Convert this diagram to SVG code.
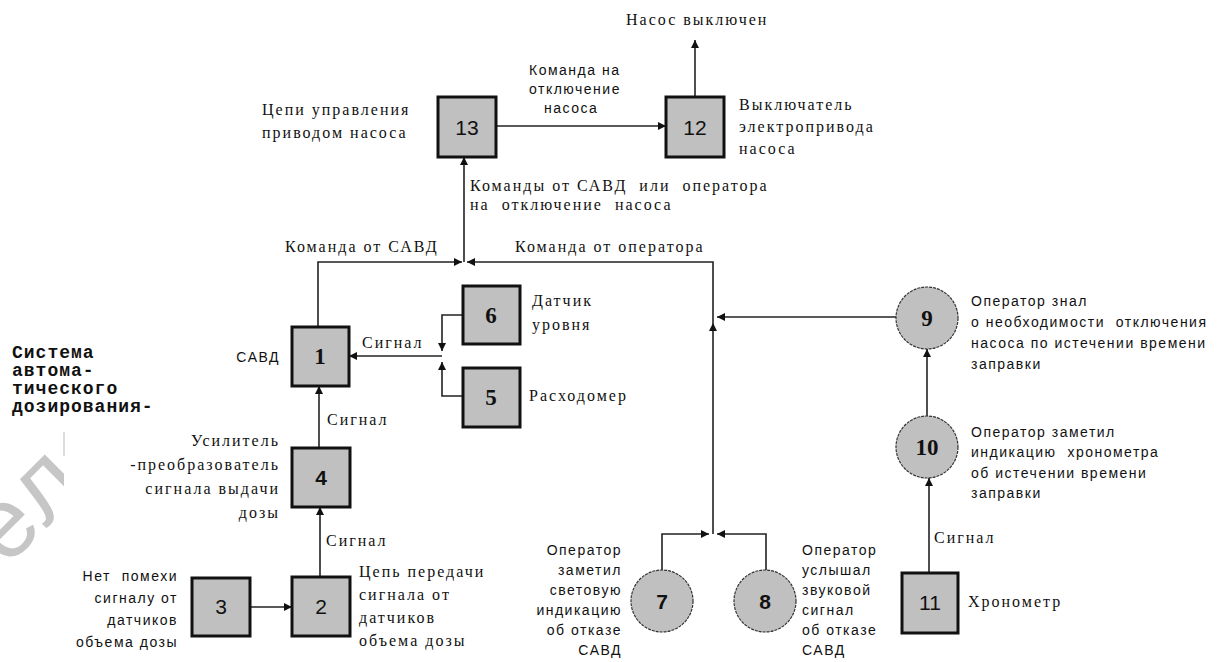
<svg xmlns="http://www.w3.org/2000/svg" width="1222" height="662" viewBox="0 0 1222 662">
<style>
.s{font-family:"Liberation Serif","Times New Roman",serif;font-size:16px;letter-spacing:2px;fill:#111;white-space:pre}
.a{font-family:"Liberation Sans",Arial,sans-serif;font-size:14px;letter-spacing:1.5px;fill:#111;white-space:pre}
.e{text-anchor:end}
.m{font-family:"Liberation Mono","Courier New",monospace;font-size:18px;font-weight:bold;letter-spacing:1px;fill:#111}
.box{fill:#c0c0c0;stroke:#111;stroke-width:3}
.cir{fill:#c0c0c0;stroke:#333;stroke-width:1.2;stroke-dasharray:3 1}
.ns{font-family:"Liberation Sans",Arial,sans-serif;font-size:21px;text-anchor:middle;fill:#111}
.nf{font-family:"Liberation Serif","Times New Roman",serif;font-size:23px;font-weight:bold;text-anchor:middle;fill:#111}
.c{fill:none;stroke:#222;stroke-width:1.6}
</style>
<defs>
<marker id="ar" viewBox="0 0 8 8" refX="8" refY="4" markerWidth="8" markerHeight="8" markerUnits="userSpaceOnUse" orient="auto">
<path d="M0,0 L8,4 L0,8 z" fill="#111"/>
</marker>
<clipPath id="wm"><rect x="0" y="400" width="64" height="262"/></clipPath>
</defs>
<rect width="1222" height="662" fill="#fff"/>
<g id="watermark">
<g clip-path="url(#wm)">
<text x="6" y="568" transform="rotate(-45 6 568)" font-family="Liberation Sans,Arial,sans-serif" font-size="100" letter-spacing="4" fill="#c6c6c6">ел</text>
</g>
<path d="M64,432 V456" stroke="#d0d0d0" stroke-width="1.5"/>
</g>
<g id="connectors" class="c">
<path d="M496,126 H666" marker-end="url(#ar)"/>
<path d="M695,97 V40" marker-end="url(#ar)"/>
<path d="M464,262 V157" marker-end="url(#ar)"/>
<path d="M318,327 V262 H462" marker-end="url(#ar)"/>
<path d="M713,534 V323" marker-end="url(#ar)"/>
<path d="M713,323 V262 H467" marker-end="url(#ar)"/>
<path d="M896,317 H717" marker-end="url(#ar)"/>
<path d="M662,570 V534 H709" marker-end="url(#ar)"/>
<path d="M766,570 V534 H717" marker-end="url(#ar)"/>
<path d="M927,416 V349" marker-end="url(#ar)"/>
<path d="M929,573 V478" marker-end="url(#ar)"/>
<path d="M463,315 H442 V351" marker-end="url(#ar)"/>
<path d="M463,396 H442 V362" marker-end="url(#ar)"/>
<path d="M442,356 H349" marker-end="url(#ar)"/>
<path d="M319,448 V386" marker-end="url(#ar)"/>
<path d="M320,577 V507" marker-end="url(#ar)"/>
<path d="M250,607 H292" marker-end="url(#ar)"/>
</g>
<g id="labels-connectors">
<text class="s" x="626" y="25">Насос выключен</text>
<text class="a" x="529" y="75">Команда на</text>
<text class="a" x="529" y="94">отключение</text>
<text class="a" x="544" y="113">насоса</text>
<text class="s" x="470" y="191" letter-spacing="2.3">Команды от САВД  или  оператора</text>
<text class="s" x="470" y="210">на  отключение  насоса</text>
<text class="s" x="285" y="252">Команда от САВД</text>
<text class="s" x="515" y="252">Команда от оператора</text>
<text class="s" x="362" y="348">Сигнал</text>
<text class="s" x="327" y="425">Сигнал</text>
<text class="s" x="326" y="546">Сигнал</text>
<text class="s" x="934" y="543">Сигнал</text>
</g>
<g id="n13">
<rect class="box" x="438" y="97" width="58" height="60"/>
<text class="ns" x="467" y="135">13</text>
<text class="s" x="262" y="115" letter-spacing="2.6">Цепи управления</text>
<text class="s" x="262" y="138" letter-spacing="2.6">приводом насоса</text>
</g>
<g id="n12">
<rect class="box" x="666" y="97" width="58" height="60"/>
<text class="ns" x="695" y="135">12</text>
<text class="s" x="739" y="110" letter-spacing="0.8">Выключатель</text>
<text class="s" x="739" y="132" letter-spacing="0.8">электропривода</text>
<text class="s" x="739" y="154" letter-spacing="0.8">насоса</text>
</g>
<g id="n1">
<rect class="box" x="292" y="327" width="57" height="59"/>
<text class="nf" x="320" y="364">1</text>
<text class="a e" x="280" y="362" letter-spacing="0">САВД</text>
</g>
<g id="system">
<text class="m" x="12" y="358">Система</text>
<text class="m" x="12" y="376">автома-</text>
<text class="m" x="12" y="394">тического</text>
<text class="m" x="12" y="412">дозирования-</text>
</g>
<g id="n6">
<rect class="box" x="463" y="286" width="57" height="58"/>
<text class="nf" x="491" y="323">6</text>
<text class="s" x="532" y="306">Датчик</text>
<text class="s" x="532" y="330">уровня</text>
</g>
<g id="n5">
<rect class="box" x="463" y="368" width="57" height="59"/>
<text class="nf" x="491" y="405">5</text>
<text class="s" x="529" y="401">Расходомер</text>
</g>
<g id="n4">
<rect class="box" x="292" y="448" width="58" height="59"/>
<text class="ns" x="321" y="485" font-weight="bold">4</text>
<text class="s e" x="280" y="446">Усилитель</text>
<text class="s e" x="280" y="470">-преобразователь</text>
<text class="s e" x="280" y="494">сигнала выдачи</text>
<text class="s e" x="280" y="518">дозы</text>
</g>
<g id="n2">
<rect class="box" x="292" y="577" width="58" height="59"/>
<text class="ns" x="321" y="614">2</text>
<text class="s" x="359" y="577">Цепь передачи</text>
<text class="s" x="359" y="600">сигнала от</text>
<text class="s" x="359" y="623">датчиков</text>
<text class="s" x="359" y="646">объема дозы</text>
</g>
<g id="n3">
<rect class="box" x="192" y="578" width="58" height="58"/>
<text class="ns" x="221" y="614">3</text>
<text class="a e" x="178" y="581">Нет  помехи</text>
<text class="a e" x="178" y="603">сигналу от</text>
<text class="a e" x="178" y="625">датчиков</text>
<text class="a e" x="178" y="647">объема дозы</text>
</g>
<g id="n7">
<circle class="cir" cx="662" cy="601" r="31"/>
<text class="ns" x="662" y="609" font-weight="bold">7</text>
<text class="a e" x="622" y="555">Оператор</text>
<text class="a e" x="622" y="575">заметил</text>
<text class="a e" x="622" y="595">световую</text>
<text class="a e" x="622" y="615">индикацию</text>
<text class="a e" x="622" y="635">об отказе</text>
<text class="a e" x="622" y="655">САВД</text>
</g>
<g id="n8">
<circle class="cir" cx="765" cy="601" r="31"/>
<text class="ns" x="765" y="609" font-weight="bold">8</text>
<text class="a" x="802" y="555">Оператор</text>
<text class="a" x="802" y="575">услышал</text>
<text class="a" x="802" y="595">звуковой</text>
<text class="a" x="802" y="615">сигнал</text>
<text class="a" x="802" y="635">об отказе</text>
<text class="a" x="802" y="655">САВД</text>
</g>
<g id="n9">
<circle class="cir" cx="927" cy="318" r="31"/>
<text class="nf" x="927" y="326">9</text>
<text class="a" x="971" y="306">Оператор знал</text>
<text class="a" x="971" y="327">о необходимости  отключения</text>
<text class="a" x="971" y="348">насоса по истечении времени</text>
<text class="a" x="971" y="369">заправки</text>
</g>
<g id="n10">
<circle class="cir" cx="927" cy="447" r="31"/>
<text class="nf" x="927" y="455">10</text>
<text class="a" x="971" y="437">Оператор заметил</text>
<text class="a" x="971" y="457">индикацию  хронометра</text>
<text class="a" x="971" y="478">об истечении времени</text>
<text class="a" x="971" y="498">заправки</text>
</g>
<g id="n11">
<rect class="box" x="902" y="573" width="56" height="60"/>
<text class="ns" x="930" y="610">11</text>
<text class="s" x="968" y="607">Хронометр</text>
</g>
</svg>
